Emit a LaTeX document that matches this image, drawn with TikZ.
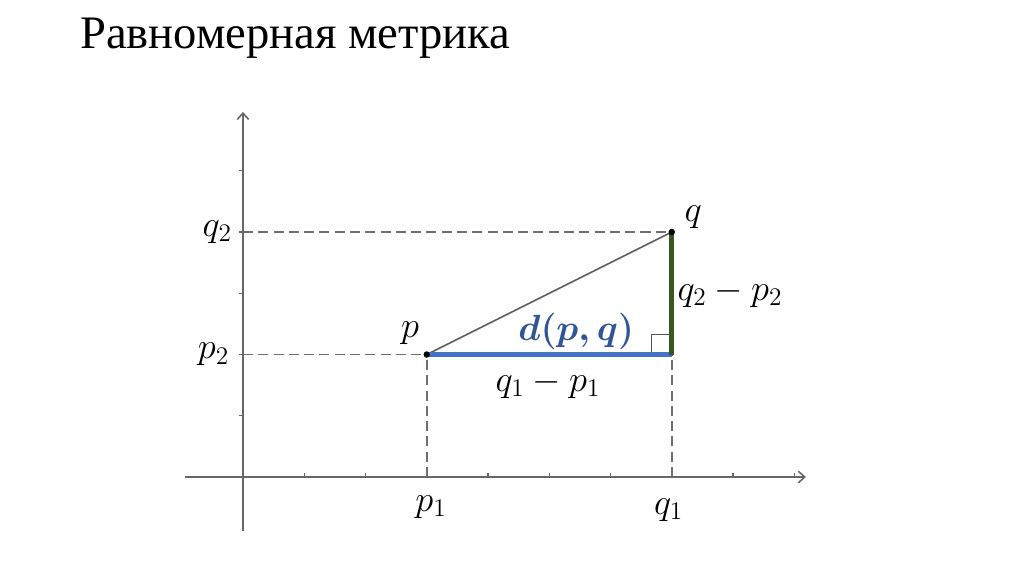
\documentclass[tikz,border=0pt]{standalone}
\usepackage{amsmath}
\usepackage{fontspec}
\setmainfont{Liberation Serif}
\usetikzlibrary{arrows.meta}
\definecolor{lineblue}{HTML}{4472C4}
\definecolor{textblue}{HTML}{2F5597}
\definecolor{legreen}{HTML}{385723}
\definecolor{axisgray}{HTML}{666666}
\definecolor{guidegray}{HTML}{6E6E6E}

\begin{document}
\begin{tikzpicture}[x=1.225cm, y=1.225cm,
    axis/.style={axisgray, line width=0.9pt},
    guide/.style={guidegray, line width=0.9pt, dash pattern=on 5.7pt off 3pt},
    lbl/.style={font=\fontsize{20}{24}\selectfont},
    >={Straight Barb[length=3.6pt, width=6.5pt]},
  ]
    \useasboundingbox (-3.967,-1.584) rectangle (12.751,7.788);

    % Title
    \node[anchor=base west, inner sep=0, font=\fontsize{26.5}{32}\selectfont] (title) at (-2.66,6.99) {Равномерная метрика};

    % Define the points
    \coordinate (O) at (0,0);
    \coordinate (P) at (3,2);
    \coordinate (Q) at (7,4);
    \coordinate (R) at (7,2);
    \coordinate (S) at (6.67,2);
    \coordinate (P1) at (3,0);
    \coordinate (Q1) at (7,0);
    \coordinate (P2) at (0,2);
    \coordinate (Q2) at (0,4);
    \coordinate (xl) at (-0.95,0);
    \coordinate (xr) at (9.19,0);
    \coordinate (yb) at (0,-0.88);
    \coordinate (yt) at (0,5.96);

    % Draw the coordinate axes
    \draw[axis, ->] (xl) -- (xr);
    \draw[axis, ->] (yb) -- (yt);
    \foreach \x in {1,...,9}
      \draw[axis, line width=0.6pt] (\x,0) -- (\x,0.06);
    \foreach \y in {1,...,5}
      \draw[axis, line width=0.6pt] (0,\y) -- (-0.06,\y);

    % Dashed guides to the axes
    \draw[guide] (P2) -- (P);
    \draw[guide] (Q2) -- (Q);
    \draw[guide] (P1) -- (P);
    \draw[guide] (Q1) -- (R);

    % Draw the triangle
    \draw[axisgray!90!black, line width=0.9pt] (P) -- (Q);
    \draw[axisgray!80!black, line width=0.7pt] (S) -- ++(0,0.33) -- ++(0.33,0);
    \draw[lineblue, line width=2.8pt] (P) -- (R);
    \draw[legreen, line width=2.8pt] (R) -- (Q);

    % Draw the points
    \filldraw (P) circle (1.6pt);
    \filldraw (Q) circle (1.6pt);

    % Label the points and the legs
    \node[lbl] (lp) at (2.73,2.35) {$p$};
    \node[lbl] (lq) at (7.35,4.24) {$q$};
    \node[lbl] (lp1) at (3.07,-0.49) {$p_1$};
    \node[lbl] (lq1) at (6.95,-0.54) {$q_1$};
    \node[lbl] (lp2) at (-0.48,2) {$p_2$};
    \node[lbl] (lq2) at (-0.42,4) {$q_2$};
    \node[lbl] (dy) at (7.95,3.0) {$q_2 - p_2$};
    \node[lbl] (dx) at (4.98,1.52) {$q_1 - p_1$};
    \node[textblue, font=\fontsize{21}{25}\selectfont] (dist) at (5.44,2.37) {$\boldsymbol{d(p,q)}$};
  \end{tikzpicture}
\end{document}
